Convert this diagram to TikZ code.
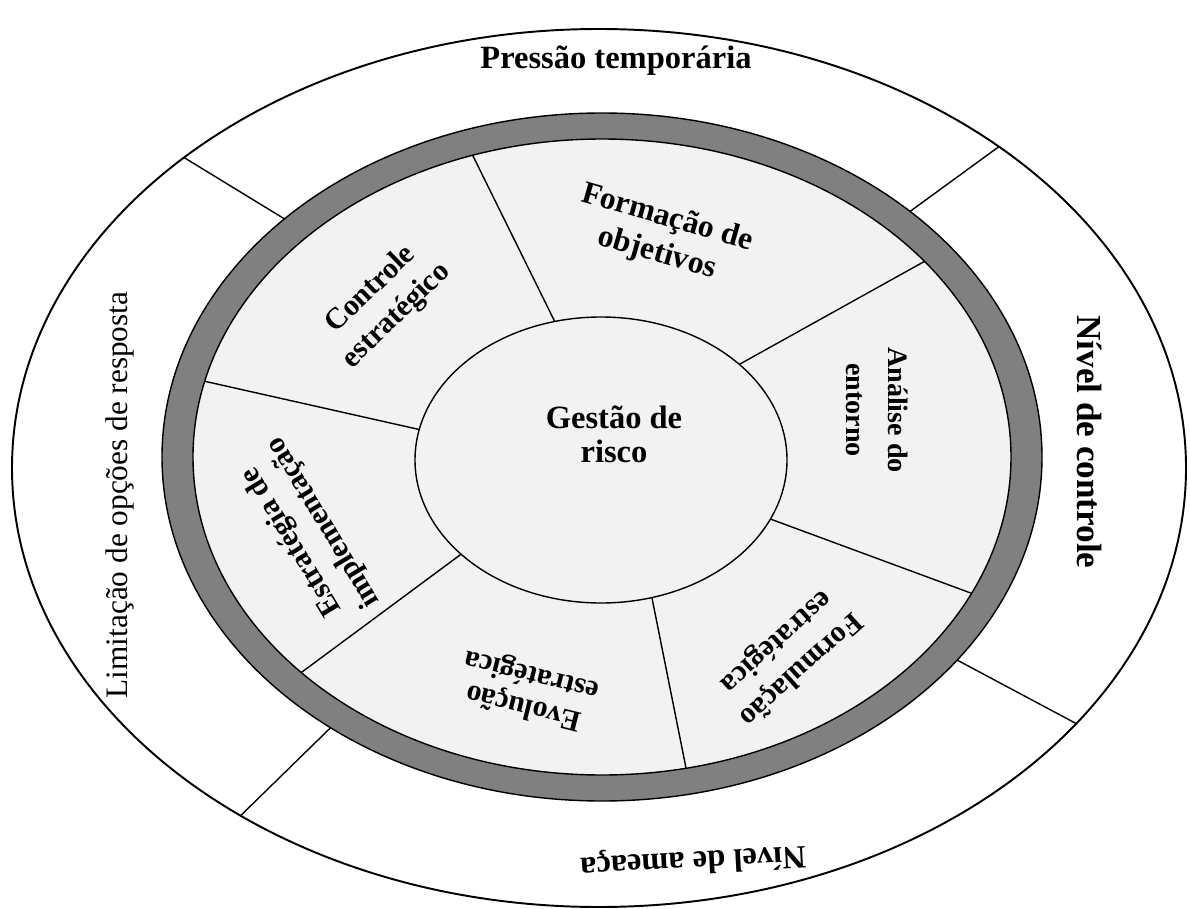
\documentclass[tikz,border=0pt]{standalone}
\usepackage{fontspec}
\setmainfont{Liberation Serif}
\usepackage{xcolor}
\usetikzlibrary{calc}
\definecolor{ringgray}{HTML}{808080}
\definecolor{sectorfill}{HTML}{F2F2F2}

\begin{document}
\begin{tikzpicture}[x=0.02cm, y=-0.02cm]
		\useasboundingbox (0,0) rectangle (1190,909);
		\newcommand{\txtsize}{\fontsize{17}{21}\selectfont}
		\tikzset{
			outertext/.style={font=\txtsize\bfseries, inner sep=0pt},
			sectortext/.style={font=\txtsize\bfseries, align=center, inner sep=0pt},
			divider/.style={black, line width=0.8pt}
		}
		\coordinate (O) at (599,468);
		\coordinate (R) at (602,457);
		\coordinate (G) at (601,460);
		
		\fill[white] (O) ellipse[x radius=587, y radius=439];
		
		\coordinate (o1a) at (175,152);   \coordinate (o1b) at (283,218);
		\coordinate (o2a) at (1008,140);  \coordinate (o2b) at (912,210);
		\coordinate (o3a) at (1077,724);  \coordinate (o3b) at (972,668);
		\coordinate (o4a) at (230,826);   \coordinate (o4b) at (318,740);
		\begin{scope}
			\clip (O) ellipse[x radius=587, y radius=439];
			\foreach \i in {1,...,4}
				\draw[divider] ($(o\i a)!-0.15!(o\i b)$) -- ($(o\i b)!-0.3!(o\i a)$);
		\end{scope}
		\draw[line width=1.1pt] (O) ellipse[x radius=587, y radius=439];
		
		\fill[ringgray] (R) ellipse[x radius=440, y radius=344];
		\fill[sectorfill] (R) ellipse[x radius=409, y radius=318];
		
		\coordinate (s1a) at (553,318);  \coordinate (s1b) at (474,158);
		\coordinate (s2a) at (749,359);  \coordinate (s2b) at (918,265);
		\coordinate (s3a) at (773,520);  \coordinate (s3b) at (968,592);
		\coordinate (s4a) at (653,603);  \coordinate (s4b) at (686,768);
		\coordinate (s5a) at (460,555);  \coordinate (s5b) at (302,672);
		\coordinate (s6a) at (417,429);  \coordinate (s6b) at (208,382);
		\begin{scope}
			\clip (R) ellipse[x radius=409, y radius=318];
			\foreach \i in {1,...,6}
				\draw[divider] ($(s\i a)!-0.1!(s\i b)$) -- ($(s\i b)!-0.1!(s\i a)$);
		\end{scope}
		\draw[line width=0.8pt] (R) ellipse[x radius=440, y radius=344];
		\draw[line width=0.8pt] (R) ellipse[x radius=409, y radius=318];
		
		\draw[line width=0.8pt, fill=sectorfill] (G) ellipse[x radius=186, y radius=143];
		
		\node[outertext, font=\fontsize{18.5}{20}\selectfont\bfseries] (pressao) at (616,61) {Pressão temporária};
		\node[outertext, font=\fontsize{20}{22}\selectfont\bfseries, rotate=-90] (nivelcontrole) at (1090,442) {Nível de controle};
		\node[outertext, font=\fontsize{18.5}{20}\selectfont\bfseries, rotate=183] (nivelameaca) at (693,860) {Nível de ameaça};
		\node[outertext, font=\fontsize{17.8}{19}\selectfont, rotate=90] (limitacao) at (120,495) {Limitação de opções de resposta};
		
		\node[sectortext, font=\fontsize{18}{21}\selectfont\bfseries, rotate=-16] (formacao) at (662,236) {Formação de\\objetivos};
		\node[sectortext, font=\fontsize{16}{24}\selectfont\bfseries, rotate=-90] (analise) at (877,410) {Análise do\\entorno};
		\node[sectortext, rotate=-138] (formulacao) at (788,655) {Formulação\\estratégica};
		\node[sectortext, font=\fontsize{17}{18.5}\selectfont\bfseries, rotate=166] (evolucao) at (528,690) {Evolução\\estratégica};
		\node[sectortext, rotate=121] (estrategia) at (308,532) {Estratégia de\\implementação};
		\node[sectortext, rotate=44] (controle) at (384,303) {Controle\\estratégico};
		\node[sectortext, font=\fontsize{18.5}{19.5}\selectfont\bfseries] (gestao) at (614,434) {Gestão de\\risco};
	\end{tikzpicture}
\end{document}
